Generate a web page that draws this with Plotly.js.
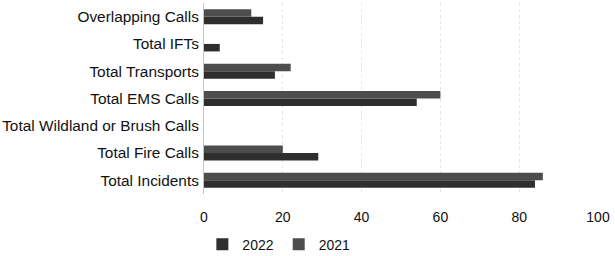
<!DOCTYPE html>
<html>
<head>
<meta charset="utf-8">
<script src="https://cdn.plot.ly/plotly-3.0.1.min.js"></script>
<style>html,body{margin:0;padding:0;background:#fff;}#chart{width:615px;height:256px;}</style>
</head>
<body>
<div id="chart"></div>
<script>
// categories listed bottom-to-top (Plotly category axes grow upward)
const categories = ["Total Incidents", "Total Fire Calls", "Total Wildland or Brush Calls", "Total EMS Calls", "Total Transports", "Total IFTs", "Overlapping Calls"];
const values2022 = [84, 29, 0, 54, 18, 4, 15];
const values2021 = [86, 20, 0, 60, 22, 0, 12];
const seriesNames = ["2022", "2021"];
const xTicks = [0, 20, 40, 60, 80, 100];

const traces = [
  {type: "bar", orientation: "h", name: seriesNames[0], y: categories, x: values2022,
   marker: {color: "#2e2e2e"}},
  {type: "bar", orientation: "h", name: seriesNames[1], y: categories, x: values2021,
   marker: {color: "#4d4d4d"}}
];

const layout = {
  width: 615, height: 256,
  margin: {l: 204, r: 17, t: 3, b: 62, autoexpand: false},
  paper_bgcolor: "#fff", plot_bgcolor: "#fff",
  font: {family: "Liberation Sans, Arial, sans-serif", size: 14, color: "#111"},
  barmode: "group", bargap: 0.45, bargroupgap: 0,
  xaxis: {range: [0, 100], tickvals: xTicks, ticktext: xTicks.map(String),
          showgrid: true, gridcolor: "#e6e6e6", griddash: "dot", zeroline: false,
          ticks: "outside", ticklen: 10, tickcolor: "rgba(0,0,0,0)",
          tickfont: {size: 14, color: "#111"}, showline: false, fixedrange: true, automargin: false},
  yaxis: {type: "category", showline: true, linecolor: "#c4c4c4", linewidth: 1,
          ticks: "", ticklabelstandoff: 1, tickfont: {size: 15.4, color: "#111"}, fixedrange: true, automargin: false},
  showlegend: true,
  legend: {orientation: "h", x: 0.19, xanchor: "center", y: -0.265, yanchor: "middle",
           traceorder: "normal", font: {size: 14, color: "#111"}, itemwidth: 30,
           bgcolor: "rgba(0,0,0,0)"}
};

Plotly.newPlot("chart", traces, layout, {staticPlot: true, displayModeBar: false});
</script>
</body>
</html>
